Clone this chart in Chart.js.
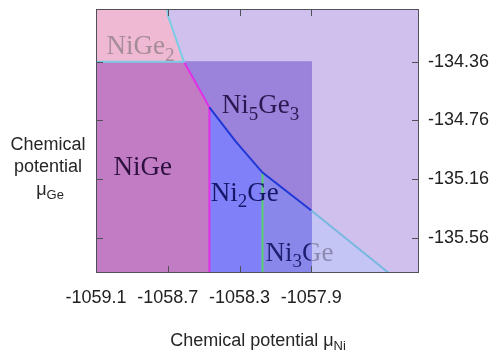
<!DOCTYPE html>
<html>
<head>
<meta charset="utf-8">
<script src="https://cdn.jsdelivr.net/npm/chart.js@4.4.0/dist/chart.umd.min.js"></script>
<style>
  html, body { margin: 0; padding: 0; background: #fff; }
  #wrap { width: 495px; height: 351px; }
</style>
</head>
<body>
<div id="wrap"><canvas id="chart" width="495" height="351"></canvas></div>
<script>
// axis ranges and ticks (mu_Ni on x, mu_Ge on y)
const xRange = [-1059.1, -1057.3]
const yRange = [-135.8, -134.0]
const xTicks = [-1059.1, -1058.7, -1058.3, -1057.9]
const yTicks = [-134.36, -134.76, -135.16, -135.56]

// stability regions, corner points
const allX = [-1059.1, -1057.3, -1057.3, -1059.1]
const allY = [-134.0, -134.0, -135.8, -135.8]
const niGe2X = [-1059.1, -1058.704, -1058.698, -1058.61, -1059.1]
const niGe2Y = [-134.0, -134.0, -134.05, -134.36, -134.36]
const ni5Ge3X = [-1059.1, -1057.9, -1057.9, -1059.1]
const ni5Ge3Y = [-134.36, -134.36, -135.8, -135.8]
const niGeX = [-1059.1, -1058.61, -1058.468, -1058.468, -1059.1]
const niGeY = [-134.36, -134.36, -134.67, -135.8, -135.8]
const ni2GeX = [-1058.468, -1058.322, -1058.172, -1058.172, -1058.468]
const ni2GeY = [-134.67, -134.903, -135.115, -135.8, -135.8]
const ni3GeX = [-1058.172, -1057.9, -1057.9, -1058.172]
const ni3GeY = [-135.115, -135.374, -135.8, -135.8]
const ni3GeOutX = [-1057.9, -1057.468, -1057.9]
const ni3GeOutY = [-135.374, -135.8, -135.8]

// phase boundary lines
const cyanTopX = [-1058.704, -1058.698, -1058.61, -1059.1]
const cyanTopY = [-134.0, -134.05, -134.36, -134.36]
const magentaX = [-1058.61, -1058.468, -1058.468]
const magentaY = [-134.36, -134.67, -135.8]
const blueX = [-1058.468, -1058.322, -1058.172, -1057.9]
const blueY = [-134.67, -134.903, -135.115, -135.374]
const greenX = [-1058.172, -1058.172]
const greenY = [-135.115, -135.8]
const cyanLowX = [-1057.9, -1057.468]
const cyanLowY = [-135.374, -135.8]

// phase labels ("_" marks a subscript digit)
const labelText = ['NiGe_2', 'NiGe', 'Ni_5Ge_3', 'Ni_2Ge', 'Ni_3Ge']
const labelX = [-1059.042, -1059.003, -1058.399, -1058.46, -1058.155]
const labelY = [-134.308, -135.135, -134.711, -135.306, -135.716]

function pts(xs, ys) {
  return xs.map((x, i) => ({ x: x, y: ys[i] }))
}

function region(xs, ys, color, order) {
  return {
    data: pts(xs, ys),
    backgroundColor: color,
    borderColor: color,
    borderWidth: 1,
    fill: 'shape',
    pointRadius: 0,
    tension: 0,
    order: order
  }
}

function boundary(xs, ys, color, order) {
  return {
    data: pts(xs, ys),
    borderColor: color,
    borderWidth: 2,
    fill: false,
    pointRadius: 0,
    tension: 0,
    order: order
  }
}

// draw "Ni_5Ge_3" style text
function richText(ctx, str, x, y, size, family) {
  const parts = str.split(/(_\d)/)
  let cx = x
  parts.forEach(p => {
    if (!p) return
    if (p[0] === '_') {
      ctx.font = Math.round(size * 0.72) + 'px ' + family
      ctx.fillText(p.slice(1), cx, y + size * 0.24)
      cx += ctx.measureText(p.slice(1)).width
    } else {
      ctx.font = size + 'px ' + family
      ctx.fillText(p, cx, y)
      cx += ctx.measureText(p).width
    }
  })
}

const labelColors = ['#a58c98', '#2c1040', '#2a1850', '#16166a', '#1e1e70']

const phaseLabels = {
  id: 'phaseLabels',
  afterDatasetsDraw(chart) {
    const { ctx, scales: { x, y }, chartArea } = chart
    const serif = '"Liberation Serif", "Times New Roman", serif'
    const size = 27
    const cut = x.getPixelForValue(-1057.9)
    ctx.save()
    ctx.textBaseline = 'alphabetic'
    ctx.textAlign = 'left'
    labelText.forEach((t, i) => {
      const px = x.getPixelForValue(labelX[i])
      const py = y.getPixelForValue(labelY[i])
      if (t === 'Ni_3Ge') {
        // the part past mu_Ni = -1057.9 sits under the pale region
        ctx.save()
        ctx.beginPath()
        ctx.rect(chartArea.left, chartArea.top, cut - chartArea.left, chartArea.bottom - chartArea.top)
        ctx.clip()
        ctx.fillStyle = labelColors[i]
        richText(ctx, t, px, py, size, serif)
        ctx.restore()
        ctx.save()
        ctx.beginPath()
        ctx.rect(cut, chartArea.top, chartArea.right - cut, chartArea.bottom - chartArea.top)
        ctx.clip()
        ctx.fillStyle = '#8c8ab0'
        richText(ctx, t, px, py, size, serif)
        ctx.restore()
      } else {
        ctx.fillStyle = labelColors[i]
        richText(ctx, t, px, py, size, serif)
      }
    })

    // frame and inward tick marks
    const { left, right, top, bottom } = chartArea
    ctx.strokeStyle = '#505058'
    ctx.lineWidth = 1
    ctx.strokeRect(left + 0.5, top + 0.5, right - left - 1, bottom - top - 1)
    ctx.beginPath()
    xTicks.forEach(v => {
      const px = Math.round(x.getPixelForValue(v)) + 0.5
      ctx.moveTo(px, bottom); ctx.lineTo(px, bottom - 7)
      ctx.moveTo(px, top); ctx.lineTo(px, top + 7)
    })
    yTicks.forEach(v => {
      const py = Math.round(y.getPixelForValue(v)) + 0.5
      ctx.moveTo(left, py); ctx.lineTo(left + 7, py)
      ctx.moveTo(right, py); ctx.lineTo(right - 7, py)
    })
    ctx.stroke()
    ctx.restore()
  },
  afterDraw(chart) {
    const { ctx } = chart
    const sans = '"Liberation Sans", Arial, sans-serif'
    ctx.save()
    ctx.fillStyle = '#262626'
    ctx.textBaseline = 'alphabetic'
    ctx.textAlign = 'left'

    // x title, centred
    ctx.font = '18px ' + sans
    const main = 'Chemical potential \u03bc'
    const mw = ctx.measureText(main).width
    ctx.font = '13px ' + sans
    const sw = ctx.measureText('Ni').width
    const sx = 258 - (mw + sw) / 2
    ctx.font = '18px ' + sans
    ctx.fillText(main, sx, 346)
    ctx.font = '13px ' + sans
    ctx.fillText('Ni', sx + mw, 350)

    // y title, three lines
    ctx.textAlign = 'center'
    ctx.font = '18px ' + sans
    ctx.fillText('Chemical', 48, 150)
    ctx.fillText('potential', 48, 172)
    ctx.textAlign = 'left'
    const mu = ctx.measureText('\u03bc').width
    ctx.font = '13px ' + sans
    const ge = ctx.measureText('Ge').width
    const gx = 50 - (mu + ge) / 2
    ctx.font = '18px ' + sans
    ctx.fillText('\u03bc', gx, 195)
    ctx.font = '13px ' + sans
    ctx.fillText('Ge', gx + mu, 199)
    ctx.restore()
  }
}

const ctx = document.getElementById('chart').getContext('2d')

new Chart(ctx, {
  type: 'line',
  data: {
    datasets: [
      boundary(cyanTopX, cyanTopY, '#7ccce6', 1),
      boundary(magentaX, magentaY, '#e030e8', 1),
      boundary(greenX, greenY, '#58d070', 1),
      boundary(blueX, blueY, '#2038d8', 0),
      boundary(cyanLowX, cyanLowY, '#78b8e0', 1),
      region(ni2GeX, ni2GeY, '#8080f8', 3),
      region(ni3GeX, ni3GeY, '#8a87ea', 3),
      region(ni3GeOutX, ni3GeOutY, '#c5c5f5', 3),
      region(niGeX, niGeY, '#c17cc3', 4),
      region(niGe2X, niGe2Y, '#efb9d3', 5),
      region(ni5Ge3X, ni5Ge3Y, '#9b82db', 6),
      region(allX, allY, '#cfc0ee', 7)
    ]
  },
  options: {
    responsive: false,
    devicePixelRatio: 1,
    animation: false,
    layout: { padding: { left: 96, top: 9, right: 0, bottom: 0 } },
    plugins: {
      legend: { display: false },
      tooltip: { enabled: false }
    },
    scales: {
      x: {
        type: 'linear',
        position: 'bottom',
        min: xRange[0],
        max: xRange[1],
        afterBuildTicks: s => { s.ticks = xTicks.map(v => ({ value: v })) },
        afterFit: s => { s.height = 78; s.paddingLeft = 0; s.paddingRight = 0 },
        grid: { display: false, drawTicks: false },
        border: { display: false },
        ticks: {
          autoSkip: false,
          maxRotation: 0,
          padding: 14,
          color: '#222',
          font: { family: '"Liberation Sans", Arial, sans-serif', size: 18 },
          callback: v => v.toFixed(1)
        }
      },
      y: {
        type: 'linear',
        position: 'right',
        min: yRange[0],
        max: yRange[1],
        afterBuildTicks: s => { s.ticks = yTicks.map(v => ({ value: v })) },
        afterFit: s => { s.width = 76; s.paddingTop = 0; s.paddingBottom = 0 },
        grid: { display: false, drawTicks: false },
        border: { display: false },
        ticks: {
          autoSkip: false,
          padding: 9,
          color: '#222',
          font: { family: '"Liberation Sans", Arial, sans-serif', size: 18 },
          callback: v => v.toFixed(2)
        }
      }
    }
  },
  plugins: [phaseLabels]
})
</script>
</body>
</html>
